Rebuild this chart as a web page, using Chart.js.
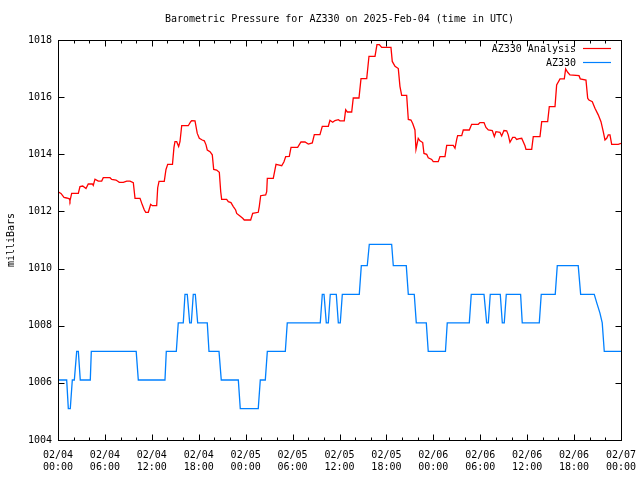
<!DOCTYPE html>
<html><head><meta charset="utf-8">
<script src="https://cdn.jsdelivr.net/npm/chart.js@4/dist/chart.umd.min.js"></script>
<style>html,body{margin:0;padding:0;background:#fff;}#wrap{width:640px;height:480px;}</style>
</head><body><div id="wrap"><canvas id="c" width="640" height="480"></canvas></div>
<script>
const chartTitle = 'Barometric Pressure for AZ330 on 2025-Feb-04 (time in UTC)';
const yAxisLabel = 'milliBars';
const seriesNames = ['AZ330 Analysis', 'AZ330'];
const xTickLabels = [
  ['02/04','00:00'],['02/04','06:00'],['02/04','12:00'],['02/04','18:00'],
  ['02/05','00:00'],['02/05','06:00'],['02/05','12:00'],['02/05','18:00'],
  ['02/06','00:00'],['02/06','06:00'],['02/06','12:00'],['02/06','18:00'],
  ['02/07','00:00']
];
// hours since 02/04 00:00 UTC
const analysisHours = [0,0.38,0.77,1.11,1.45,1.53,1.75,2.6,2.81,3.16,3.58,3.87,4.39,4.51,4.73,5.15,5.59,5.79,6.65,6.87,7.42,7.84,8.35,8.79,9.21,9.63,9.85,10.49,10.78,11.04,11.22,11.55,11.85,12.06,12.62,12.75,12.92,13.59,13.81,14.03,14.64,14.83,14.96,15.18,15.43,15.6,15.82,16.66,16.97,17.1,17.52,17.81,18.07,18.45,18.71,18.93,19.09,19.44,19.73,19.91,20.29,20.63,20.81,20.93,21.57,21.78,22.12,22.42,22.72,22.85,23.27,23.62,23.82,24.64,24.9,25.61,25.74,25.92,26.56,26.69,26.77,27.53,27.88,28.17,28.61,28.9,29.12,29.58,29.8,30.65,31.07,31.59,32.01,32.52,32.78,33.5,33.8,34.57,34.78,35.13,35.42,35.85,36.06,36.61,36.79,37.0,37.56,37.76,38.49,38.75,39.48,39.77,40.54,40.79,41.09,41.4,42.58,42.75,43.1,43.52,43.73,43.95,44.59,44.8,45.14,45.36,45.65,45.78,46.07,46.29,46.64,46.8,47.15,47.35,47.79,47.99,48.63,48.85,49.49,49.71,50.55,50.77,50.99,51.11,51.63,51.83,52.6,52.9,53.75,53.96,54.48,54.73,55.03,55.54,55.8,56.01,56.52,56.74,57.03,57.38,57.58,57.8,58.15,58.44,58.66,58.99,59.3,59.72,59.85,60.58,60.78,61.64,61.86,62.62,62.83,63.56,63.77,64.2,64.75,64.92,65.18,65.47,66.63,66.79,67.52,67.74,67.9,68.33,68.67,69.09,69.44,69.73,69.95,70.17,70.37,70.59,70.81,71.65,72.0];
const analysisValues = [1012.69,1012.63,1012.49,1012.47,1012.44,1012.37,1012.63,1012.63,1012.87,1012.89,1012.80,1012.96,1012.96,1012.91,1013.13,1013.06,1013.06,1013.18,1013.18,1013.12,1013.10,1013.02,1013.02,1013.06,1013.06,1013.01,1012.46,1012.46,1012.23,1012.05,1011.97,1011.97,1012.25,1012.20,1012.20,1012.83,1013.05,1013.05,1013.47,1013.65,1013.65,1014.24,1014.44,1014.44,1014.27,1014.44,1015.00,1015.00,1015.14,1015.18,1015.17,1014.73,1014.56,1014.50,1014.47,1014.33,1014.15,1014.09,1013.98,1013.47,1013.45,1013.37,1012.69,1012.42,1012.42,1012.34,1012.31,1012.17,1012.05,1011.93,1011.84,1011.76,1011.70,1011.70,1011.93,1011.97,1012.17,1012.55,1012.58,1012.69,1013.16,1013.16,1013.65,1013.63,1013.60,1013.74,1013.92,1013.93,1014.24,1014.24,1014.43,1014.43,1014.36,1014.40,1014.69,1014.69,1014.98,1014.98,1015.19,1015.12,1015.18,1015.21,1015.17,1015.17,1015.56,1015.48,1015.48,1015.97,1015.97,1016.65,1016.65,1017.43,1017.43,1017.84,1017.84,1017.74,1017.74,1017.25,1017.08,1017.00,1016.38,1016.06,1016.06,1015.22,1015.20,1015.08,1014.85,1014.17,1014.56,1014.47,1014.41,1014.03,1014.00,1013.88,1013.82,1013.74,1013.74,1013.92,1013.92,1014.31,1014.31,1014.21,1014.52,1014.65,1014.65,1014.85,1014.85,1015.05,1015.05,1015.11,1015.11,1014.94,1014.85,1014.83,1014.62,1014.79,1014.77,1014.64,1014.83,1014.82,1014.68,1014.42,1014.59,1014.59,1014.52,1014.55,1014.56,1014.30,1014.17,1014.17,1014.62,1014.62,1015.14,1015.14,1015.67,1015.67,1016.43,1016.64,1016.64,1016.99,1016.87,1016.78,1016.75,1016.64,1016.60,1015.96,1015.90,1015.84,1015.61,1015.38,1015.14,1014.79,1014.50,1014.56,1014.68,1014.68,1014.35,1014.35,1014.38];
const stationHours = [0,1.11,1.32,1.57,1.83,2.09,2.39,2.6,2.85,4.13,4.26,10.0,10.27,13.68,13.85,15.13,15.38,16.02,16.24,16.53,16.84,17.05,17.3,17.56,17.86,19.09,19.31,20.59,20.88,23.06,23.31,25.61,25.87,26.51,26.77,29.07,29.32,33.54,33.8,34.02,34.31,34.57,34.82,35.59,35.85,36.1,36.36,38.53,38.79,39.55,39.81,42.67,42.88,44.54,44.8,45.56,45.82,47.1,47.35,49.55,49.78,52.6,52.85,54.48,54.82,55.03,55.28,56.56,56.82,57.07,57.33,59.16,59.37,61.55,61.8,63.59,63.85,66.53,66.84,68.58,68.9,69.3,69.6,69.86,72];
const stationValues = [1006.1,1006.1,1005.1,1005.1,1006.1,1006.1,1007.1,1007.1,1006.1,1006.1,1007.1,1007.1,1006.1,1006.1,1007.1,1007.1,1008.1,1008.1,1009.1,1009.1,1008.1,1008.1,1009.1,1009.1,1008.1,1008.1,1007.1,1007.1,1006.1,1006.1,1005.1,1005.1,1006.1,1006.1,1007.1,1007.1,1008.1,1008.1,1009.1,1009.1,1008.1,1008.1,1009.1,1009.1,1008.1,1008.1,1009.1,1009.1,1010.1,1010.1,1010.85,1010.85,1010.1,1010.1,1009.1,1009.1,1008.1,1008.1,1007.1,1007.1,1008.1,1008.1,1009.1,1009.1,1008.1,1008.1,1009.1,1009.1,1008.1,1008.1,1009.1,1009.1,1008.1,1008.1,1009.1,1009.1,1010.1,1010.1,1009.1,1009.1,1008.8,1008.45,1008.1,1007.1,1007.1];

const FONT = '"DejaVu Sans Mono", "Liberation Mono", monospace';
Chart.defaults.color = '#000';
Chart.defaults.font.family = FONT;
Chart.defaults.font.size = 10;

const toXY = (hs, vs) => hs.map((h, i) => ({x: h, y: vs[i]}));

const framePlugin = {
  id: 'frame',
  afterDraw(chart) {
    const ctx = chart.ctx, a = chart.chartArea, xs = chart.scales.x, ys = chart.scales.y;
    ctx.save();
    ctx.strokeStyle = '#000';
    ctx.lineWidth = 1;
    const L = Math.round(a.left) + 0.5, R = Math.round(a.right) + 0.5;
    const T = Math.round(a.top) + 0.5, B = Math.round(a.bottom) + 0.5;
    ctx.strokeRect(L, T, R - L, B - T);
    ctx.beginPath();
    ys.ticks.forEach(t => {
      const py = Math.round(ys.getPixelForValue(t.value)) + 0.5;
      ctx.moveTo(L, py); ctx.lineTo(L + 6, py);
      ctx.moveTo(R, py); ctx.lineTo(R - 6, py);
    });
    for (let h = xs.min; h <= xs.max; h += 2) {
      const px = Math.round(xs.getPixelForValue(h)) + 0.5;
      const len = (h % 6 === 0) ? 6 : 3;
      ctx.moveTo(px, B); ctx.lineTo(px, B - len);
      ctx.moveTo(px, T); ctx.lineTo(px, T + len);
    }
    ctx.stroke();
    // title
    ctx.fillStyle = '#000';
    ctx.font = '10px ' + FONT;
    ctx.textAlign = 'center';
    ctx.textBaseline = 'middle';
    ctx.fillText(chartTitle, (a.left + a.right) / 2, 19);
    // legend
    ctx.textAlign = 'right';
    const items = [[seriesNames[0], '#ff0000', 49], [seriesNames[1], '#0080ff', 63]];
    items.forEach(([name, col, y]) => {
      ctx.fillStyle = '#000';
      ctx.fillText(name, 576, y);
      ctx.strokeStyle = col;
      ctx.lineWidth = 1.2;
      ctx.beginPath();
      ctx.moveTo(583, y - 0.5); ctx.lineTo(611, y - 0.5);
      ctx.stroke();
    });
    ctx.restore();
  }
};

new Chart(document.getElementById('c'), {
  type: 'line',
  data: {
    datasets: [
      {label: seriesNames[0], data: toXY(analysisHours, analysisValues), borderColor: '#ff0000', borderWidth: 1.3, pointRadius: 0, tension: 0, fill: false},
      {label: seriesNames[1], data: toXY(stationHours, stationValues), borderColor: '#0080ff', borderWidth: 1.3, pointRadius: 0, tension: 0, fill: false}
    ]
  },
  options: {
    responsive: false,
    animation: false,
    layout: {autoPadding: false, padding: {top: 40, right: 19, left: 0, bottom: 0}},
    plugins: {legend: {display: false}, title: {display: false}, tooltip: {enabled: false}},
    scales: {
      x: {
        type: 'linear', min: 0, max: 72,
        grid: {display: false, drawTicks: false},
        border: {display: false},
        ticks: {stepSize: 6, autoSkip: false, maxRotation: 0, padding: 9,
          callback: v => xTickLabels[Math.round(v / 6)]},
        afterFit: s => { s.height = 40; s.paddingLeft = 0; s.paddingRight = 0; }
      },
      y: {
        min: 1004, max: 1018,
        grid: {display: false, drawTicks: false},
        border: {display: false},
        ticks: {stepSize: 2, padding: 6, callback: v => String(v)},
        title: {display: true, text: yAxisLabel, padding: {top: 5, bottom: 0}},
        afterFit: s => { s.width = 58; s.paddingTop = 0; s.paddingBottom = 0; }
      }
    }
  },
  plugins: [framePlugin]
});
</script></body></html>
